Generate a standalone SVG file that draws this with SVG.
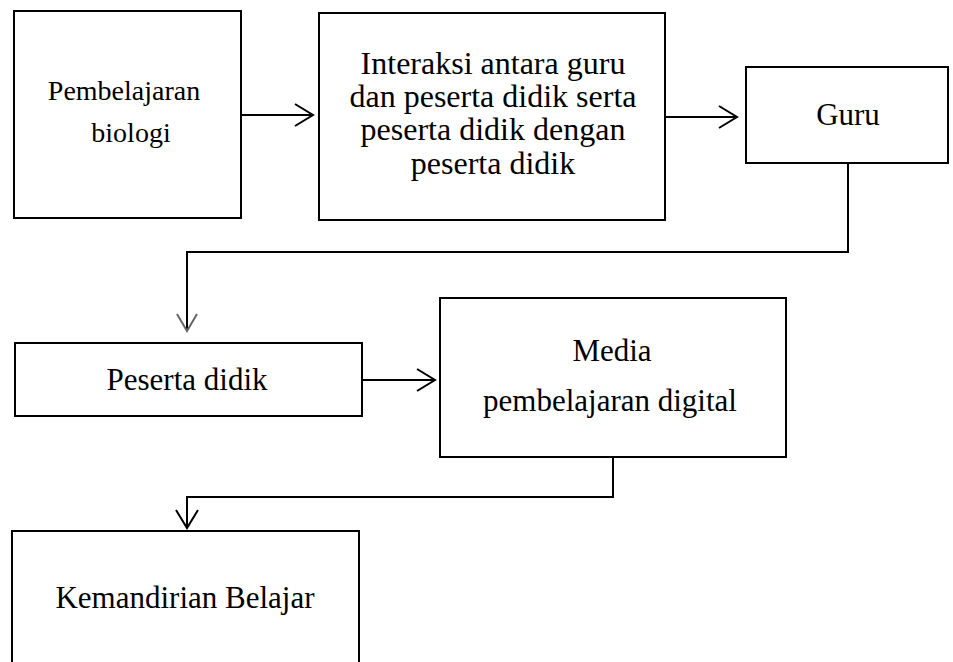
<svg xmlns="http://www.w3.org/2000/svg" width="953" height="662" viewBox="0 0 953 662">
<style>
.box{fill:#fff;stroke:#000;stroke-width:2}
.t{font-family:"Liberation Serif","Times New Roman",serif;font-size:31px;fill:#000;text-anchor:middle}
.s{font-size:28px}
.m{font-size:32px}
.c{fill:none;stroke:#000;stroke-width:2}
</style>
<defs>
<marker id="ah" markerUnits="userSpaceOnUse" markerWidth="24" markerHeight="30" refX="20" refY="15" orient="auto" viewBox="0 0 24 30">
<path d="M2 4 L20 15 L2 26" fill="none" stroke="#000" stroke-width="2"/>
</marker>
<marker id="ahg" markerUnits="userSpaceOnUse" markerWidth="24" markerHeight="30" refX="20" refY="15" orient="auto" viewBox="0 0 24 30">
<path d="M3 5 L20 15 L3 25" fill="none" stroke="#666" stroke-width="2"/>
</marker>
</defs>
<g id="connectors">
<path class="c" d="M241 115 H313" marker-end="url(#ah)"/>
<path class="c" d="M665 117 H737" marker-end="url(#ah)"/>
<path class="c" d="M848 163 V252 H187 V331" marker-end="url(#ahg)"/>
<path class="c" d="M362 380 H435" marker-end="url(#ah)"/>
<path class="c" d="M613 457 V497 H187 V528" marker-end="url(#ah)"/>
</g>
<g id="pembelajaran-biologi">
<rect class="box" x="14" y="11" width="227" height="207"/>
<text class="t s" x="124" y="100">Pembelajaran</text>
<text class="t s" x="131" y="142">biologi</text>
</g>
<g id="interaksi">
<rect class="box" x="319" y="13" width="346" height="207"/>
<text class="t m" x="493" y="74">Interaksi antara guru</text>
<text class="t m" x="493" y="107">dan peserta didik serta</text>
<text class="t m" x="493" y="140">peserta didik dengan</text>
<text class="t m" x="493" y="174">peserta didik</text>
</g>
<g id="guru">
<rect class="box" x="746" y="67" width="202" height="96"/>
<text class="t" x="848" y="125">Guru</text>
</g>
<g id="peserta-didik">
<rect class="box" x="15" y="343" width="347" height="73"/>
<text class="t" x="187" y="390">Peserta didik</text>
</g>
<g id="media">
<rect class="box" x="440" y="298" width="346" height="159"/>
<text class="t" x="612" y="361">Media</text>
<text class="t" x="610" y="411">pembelajaran digital</text>
</g>
<g id="kemandirian-belajar">
<rect class="box" x="12" y="531" width="347" height="160"/>
<text class="t" x="185" y="608">Kemandirian Belajar</text>
</g>
</svg>
